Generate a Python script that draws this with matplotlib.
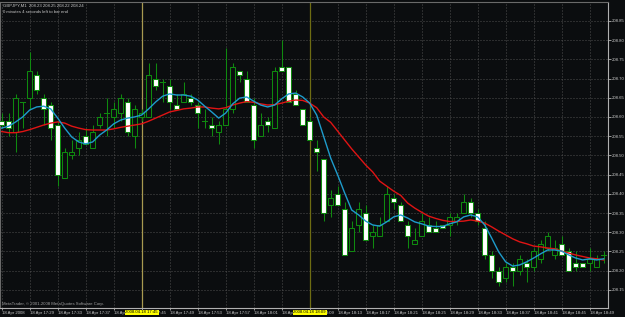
import matplotlib
matplotlib.use("Agg")
import matplotlib.pyplot as plt
from matplotlib.patches import Rectangle
from matplotlib.transforms import blended_transform_factory

symbol_info = "GBPJPY,M1  208.23 208.25 208.22 208.24"
timer_info = "0 minutes 4 seconds left to bar end"
copyright_text = "MetaTrader, \u00a9 2001-2008 MetaQuotes Software Corp."

opens = [208.59, 208.59, 208.56, 208.64, 208.65, 208.71, 208.65, 208.63, 208.58, 208.44,
         208.50, 208.52, 208.55, 208.52, 208.58, 208.61, 208.60, 208.61, 208.64, 208.55,
         208.60, 208.60, 208.70, 208.69, 208.68, 208.63, 208.64, 208.65, 208.63, 208.59,
         208.58, 208.56, 208.58, 208.62, 208.72, 208.70, 208.63, 208.55, 208.59, 208.57,
         208.73, 208.73, 208.66, 208.62, 208.59, 208.52, 208.49, 208.37, 208.40, 208.36,
         208.25, 208.32, 208.35, 208.29, 208.29, 208.33, 208.39, 208.37, 208.32, 208.27,
         208.29, 208.32, 208.31, 208.32, 208.32, 208.33, 208.35, 208.38, 208.35, 208.31,
         208.24, 208.20, 208.18, 208.21, 208.20, 208.22, 208.21, 208.23, 208.26, 208.24,
         208.27, 208.25, 208.22, 208.22, 208.22, 208.21, 208.24]
highs = [208.61, 208.61, 208.66, 208.64, 208.77, 208.72, 208.66, 208.64, 208.59, 208.52,
         208.54, 208.56, 208.57, 208.58, 208.61, 208.65, 208.64, 208.66, 208.65, 208.63,
         208.62, 208.74, 208.74, 208.70, 208.70, 208.66, 208.69, 208.66, 208.64, 208.62,
         208.60, 208.59, 208.78, 208.74, 208.72, 208.72, 208.65, 208.61, 208.60, 208.73,
         208.80, 208.73, 208.67, 208.62, 208.60, 208.54, 208.49, 208.41, 208.42, 208.38,
         208.33, 208.38, 208.37, 208.32, 208.34, 208.42, 208.40, 208.38, 208.33, 208.31,
         208.35, 208.34, 208.33, 208.32, 208.35, 208.35, 208.40, 208.39, 208.36, 208.33,
         208.25, 208.21, 208.22, 208.22, 208.24, 208.23, 208.26, 208.28, 208.30, 208.28,
         208.29, 208.26, 208.25, 208.22, 208.26, 208.24, 208.25]
lows = [208.57, 208.55, 208.51, 208.57, 208.62, 208.66, 208.58, 208.54, 208.42, 208.44,
        208.49, 208.50, 208.53, 208.52, 208.57, 208.55, 208.57, 208.59, 208.55, 208.52,
        208.59, 208.60, 208.67, 208.64, 208.62, 208.62, 208.64, 208.63, 208.57, 208.57,
        208.55, 208.53, 208.58, 208.61, 208.69, 208.64, 208.52, 208.55, 208.56, 208.57,
        208.72, 208.64, 208.63, 208.58, 208.54, 208.46, 208.33, 208.34, 208.37, 208.24,
        208.25, 208.30, 208.28, 208.26, 208.29, 208.33, 208.36, 208.33, 208.26, 208.27,
        208.29, 208.30, 208.30, 208.31, 208.29, 208.32, 208.35, 208.34, 208.32, 208.23,
        208.18, 208.16, 208.17, 208.16, 208.19, 208.17, 208.20, 208.22, 208.25, 208.23,
        208.24, 208.20, 208.20, 208.21, 208.20, 208.21, 208.22]
closes = [208.58, 208.57, 208.65, 208.64, 208.72, 208.67, 208.62, 208.57, 208.45, 208.51,
          208.51, 208.54, 208.53, 208.56, 208.60, 208.61, 208.62, 208.65, 208.56, 208.62,
          208.61, 208.71, 208.68, 208.69, 208.64, 208.62, 208.66, 208.64, 208.61, 208.59,
          208.57, 208.58, 208.62, 208.73, 208.71, 208.64, 208.54, 208.58, 208.58, 208.72,
          208.72, 208.64, 208.63, 208.58, 208.54, 208.51, 208.35, 208.39, 208.37, 208.24,
          208.31, 208.36, 208.28, 208.30, 208.32, 208.40, 208.38, 208.33, 208.29, 208.28,
          208.33, 208.30, 208.30, 208.31, 208.34, 208.34, 208.38, 208.35, 208.33, 208.24,
          208.20, 208.17, 208.21, 208.20, 208.23, 208.21, 208.25, 208.27, 208.29, 208.26,
          208.24, 208.20, 208.21, 208.21, 208.23, 208.23, 208.24]

ma_fast = [208.571, 208.576, 208.587, 208.600, 208.618, 208.626, 208.628, 208.621, 208.597, 208.571,
           208.548, 208.535, 208.530, 208.535, 208.553, 208.566, 208.582, 208.592, 208.597, 208.600,
           208.605, 208.621, 208.639, 208.654, 208.660, 208.657, 208.657, 208.654, 208.644, 208.628,
           208.613, 208.597, 208.610, 208.634, 208.649, 208.652, 208.641, 208.631, 208.626, 208.631,
           208.647, 208.660, 208.662, 208.652, 208.636, 208.605, 208.549, 208.493, 208.449, 208.402,
           208.358, 208.345, 208.329, 208.319, 208.316, 208.327, 208.340, 208.345, 208.337, 208.327,
           208.322, 208.316, 208.315, 208.315, 208.322, 208.327, 208.340, 208.345, 208.340, 208.319,
           208.285, 208.249, 208.223, 208.212, 208.215, 208.223, 208.233, 208.244, 208.254, 208.254,
           208.251, 208.241, 208.233, 208.228, 208.231, 208.228, 208.231]
ma_slow = [208.562, 208.559, 208.559, 208.562, 208.567, 208.573, 208.579, 208.584, 208.587, 208.584,
           208.576, 208.571, 208.567, 208.566, 208.566, 208.566, 208.569, 208.573, 208.576, 208.579,
           208.582, 208.589, 208.597, 208.605, 208.613, 208.617, 208.621, 208.623, 208.626, 208.626,
           208.623, 208.621, 208.624, 208.631, 208.636, 208.640, 208.638, 208.634, 208.631, 208.632,
           208.636, 208.641, 208.644, 208.643, 208.636, 208.624, 208.600, 208.586, 208.563, 208.540,
           208.517, 208.496, 208.475, 208.457, 208.433, 208.420, 208.407, 208.396, 208.376, 208.363,
           208.352, 208.342, 208.336, 208.331, 208.328, 208.328, 208.329, 208.332, 208.329, 208.324,
           208.314, 208.303, 208.293, 208.283, 208.275, 208.270, 208.264, 208.262, 208.259, 208.257,
           208.251, 208.246, 208.241, 208.237, 208.233, 208.231, 208.228]

time_labels = ["18 Apr 2008", "18 Apr 17:29", "18 Apr 17:33", "18 Apr 17:37", "18 Apr 17:41",
               "18 Apr 17:45", "18 Apr 17:49", "18 Apr 17:53", "18 Apr 17:57", "18 Apr 18:01",
               "18 Apr 18:05", "18 Apr 18:09", "18 Apr 18:13", "18 Apr 18:17", "18 Apr 18:21",
               "18 Apr 18:25", "18 Apr 18:29", "18 Apr 18:33", "18 Apr 18:37", "18 Apr 18:41",
               "18 Apr 18:45", "18 Apr 18:49"]
bars_per_label = 4
price_ticks = [208.15, 208.20, 208.25, 208.30, 208.35, 208.40, 208.45, 208.50,
               208.55, 208.60, 208.65, 208.70, 208.75, 208.80, 208.85]
vline_bars = [20, 44]
vline_labels = ["2008.04.18 17:45", "2008.04.18 18:09"]
vline_colors = ["#a89a50", "#6e6c12"]

BG = "#0b0d0f"
GRID = "#5a5a5a"
EDGE = "#0f8a0f"
TXT = "#c8c8c8"
FONT = "Liberation Sans"
FS = 3.1

fig = plt.figure(figsize=(6.25, 3.17), dpi=100, facecolor=BG)
ax = fig.add_axes([0.0, 1 - 308 / 317, 608.3 / 625, 306 / 317])
ax.set_facecolor(BG)

n = len(opens)
xs = list(range(n))
ax.set_xlim(-0.24, 86.66)
ax.set_ylim(208.103, 208.899)

# grid
for p in price_ticks:
    ax.axhline(p, color=GRID, lw=0.6, ls=(0, (1.2, 2.4)), zorder=0)
label_pos = [i * bars_per_label for i in range(len(time_labels))]
for xp in label_pos:
    ax.axvline(xp, color=GRID, lw=0.6, ls=(0, (1.2, 2.4)), zorder=0)

# vertical lines
for b, c in zip(vline_bars, vline_colors):
    ax.axvline(b, color=c, lw=0.9, zorder=1)

# candles
w = 0.64
for i in xs:
    o, h, l, c = opens[i], highs[i], lows[i], closes[i]
    ax.plot([i, i], [l, h], color=EDGE, lw=0.75, zorder=2, solid_capstyle="butt")
    lo, hi = min(o, c), max(o, c)
    if hi - lo < 1e-9:
        ax.plot([i - w / 2, i + w / 2], [o, o], color=EDGE, lw=0.75, zorder=3)
    else:
        face = "white" if c < o else BG
        ax.add_patch(Rectangle((i - w / 2, lo), w, hi - lo, facecolor=face,
                               edgecolor=EDGE, lw=0.75, zorder=3))

# moving averages
ax.plot(xs, ma_slow, color="#e01414", lw=1.0, zorder=4)
ax.plot(xs, ma_fast, color="#1e9ccc", lw=1.0, zorder=5)

# axes styling
for s in ["top", "left"]:
    ax.spines[s].set_color("#6a6a6a")
    ax.spines[s].set_linewidth(0.8)
for s in ["right", "bottom"]:
    ax.spines[s].set_color("#b0b0b0")
    ax.spines[s].set_linewidth(0.8)

ax.yaxis.tick_right()
ax.set_yticks(price_ticks)
ax.set_yticklabels([f"{p:.2f}" for p in price_ticks])
ax.tick_params(axis="y", colors="#b0b0b0", labelcolor=TXT, length=2.0, width=0.6,
               pad=0.6, labelsize=FS)
ax.set_xticks(label_pos)
ax.set_xticklabels(time_labels)
ax.tick_params(axis="x", colors="#b0b0b0", labelcolor=TXT, length=1.5, width=0.6,
               pad=0.8, labelsize=FS)
for lbl in ax.get_xticklabels():
    lbl.set_ha("left")
    lbl.set_fontfamily(FONT)
for lbl in ax.get_yticklabels():
    lbl.set_fontfamily(FONT)

# vertical line time labels (drawn over the time scale, as in the terminal)
tr = blended_transform_factory(ax.transData, ax.transAxes)
for b, t in zip(vline_bars, vline_labels):
    ax.text(b, -0.008, t, transform=tr, ha="center", va="top", fontsize=FS,
            family=FONT, color="black", zorder=10, clip_on=False,
            bbox=dict(boxstyle="square,pad=0.2", facecolor="#ffff00", edgecolor="none"))

fig.text(3 / 625, 1 - 7 / 317, symbol_info, fontsize=FS, family=FONT, color=TXT, va="baseline")
fig.text(3 / 625, 1 - 13 / 317, timer_info, fontsize=FS, family=FONT, color=TXT, va="baseline")
fig.text(2 / 625, 1 - 305 / 317, copyright_text, fontsize=FS, family=FONT, color="#a0a0a0",
         va="baseline")

fig.savefig("out.png", dpi=100, facecolor=BG)
